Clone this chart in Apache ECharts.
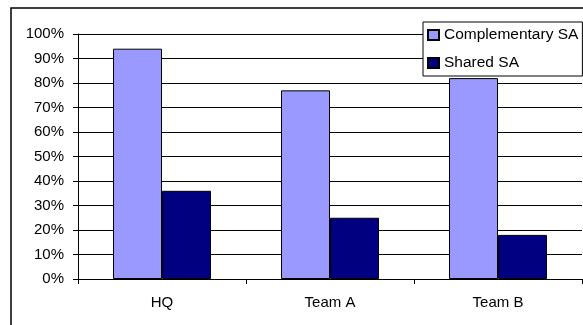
<!DOCTYPE html>
<html>
<head>
<meta charset="utf-8">
<script src="https://cdn.jsdelivr.net/npm/echarts@6/dist/echarts.min.js"></script>
<style>
html,body{margin:0;padding:0;background:#fff;}
#chart{width:583px;height:325px;}
</style>
</head>
<body>
<div id="chart"></div>
<script>
var categories = ['HQ', 'Team A', 'Team B'];
var complementarySA = [0.94, 0.77, 0.82];
var sharedSA = [0.36, 0.25, 0.18];
var seriesNames = ['Complementary SA', 'Shared SA'];

var chart = echarts.init(document.getElementById('chart'), null, {renderer: 'canvas'});
var font = '"Liberation Sans", Arial, sans-serif';
chart.setOption({
  animation: false,
  backgroundColor: '#fff',
  textStyle: {fontFamily: font},
  graphic: [{
    type: 'rect',
    shape: {x: 11, y: 8, width: 700, height: 400},
    style: {fill: 'none', stroke: '#000', lineWidth: 1.5},
    z: 100
  }],
  grid: {left: 78, top: 34, right: 1, bottom: 46},
  legend: {
    orient: 'vertical',
    left: 423,
    top: 22,
    padding: [5, 4, 5, 4],
    itemGap: 12,
    itemWidth: 11,
    itemHeight: 10,
    icon: 'rect',
    backgroundColor: '#fff',
    borderColor: '#000',
    borderWidth: 1,
    textStyle: {fontFamily: font, fontSize: 15.5, color: '#000', lineHeight: 15},
    data: seriesNames
  },
  xAxis: {
    type: 'category',
    data: categories,
    boundaryGap: true,
    axisLine: {lineStyle: {color: '#000', width: 1}},
    axisTick: {show: true, length: 5, lineStyle: {color: '#000'}},
    axisLabel: {fontFamily: font, fontSize: 15, color: '#000', margin: 16}
  },
  yAxis: {
    type: 'value',
    min: 0,
    max: 1,
    interval: 0.1,
    axisLine: {show: true, lineStyle: {color: '#000', width: 1}},
    axisTick: {show: true, length: 5, lineStyle: {color: '#000'}},
    axisLabel: {
      fontFamily: font, fontSize: 15, color: '#000', margin: 14,
      formatter: function (v) { return Math.round(v * 100) + '%'; }
    },
    splitLine: {show: true, lineStyle: {color: '#000', width: 1}}
  },
  series: [
    {
      name: seriesNames[0],
      type: 'bar',
      data: complementarySA,
      barWidth: 49,
      barGap: '0%',
      itemStyle: {color: '#9999FF', borderColor: '#000', borderWidth: 1}
    },
    {
      name: seriesNames[1],
      type: 'bar',
      data: sharedSA,
      barWidth: 49,
      barGap: '0%',
      itemStyle: {color: '#000080', borderColor: '#000', borderWidth: 1}
    }
  ]
});
</script>
</body>
</html>
